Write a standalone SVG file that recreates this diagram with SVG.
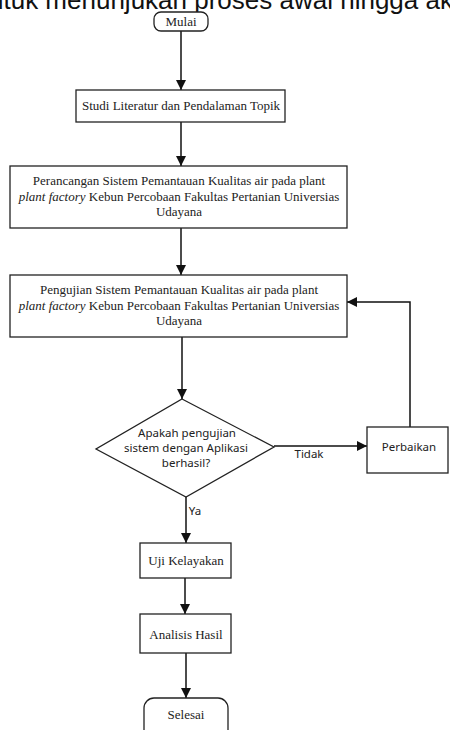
<svg xmlns="http://www.w3.org/2000/svg" width="450" height="730" viewBox="0 0 450 730">
<style>
.bx{fill:#fff;stroke:#222;stroke-width:1.3}
.t{font-family:"Liberation Serif","Times New Roman",serif;font-size:13px;fill:#222;text-anchor:middle}
.s{font-family:"Noto Sans","Open Sans",sans-serif;font-size:11.5px;fill:#222;text-anchor:middle}
.c{fill:none;stroke:#111;stroke-width:1.5}
.hd{font-family:"Liberation Sans",Arial,sans-serif;font-size:26px;fill:#111}
</style>
<defs>
<marker id="ah" markerUnits="userSpaceOnUse" markerWidth="10" markerHeight="10" refX="10" refY="5" orient="auto">
<path d="M0,0 L10,5 L0,10 z" fill="#111"/>
</marker>
</defs>
<rect width="450" height="730" fill="#fff"/>
<text class="hd" x="-11" y="9">ntuk menunjukan proses awal hingga ak</text>
<g id="connectors">
<path class="c" d="M181,31 V90" marker-end="url(#ah)"/>
<path class="c" d="M181,122 V166" marker-end="url(#ah)"/>
<path class="c" d="M181,228 V275" marker-end="url(#ah)"/>
<path class="c" d="M182,337 V399" marker-end="url(#ah)"/>
<path class="c" d="M186,497 V543" marker-end="url(#ah)"/>
<path class="c" d="M185,578 V614" marker-end="url(#ah)"/>
<path class="c" d="M186,653 V698" marker-end="url(#ah)"/>
<path class="c" d="M274,446 H367" marker-end="url(#ah)"/>
<path class="c" d="M410,427 V302 H347" marker-end="url(#ah)"/>
<text class="s" x="309" y="458">Tidak</text>
<text class="s" x="195" y="515">Ya</text>
</g>
<g id="mulai">
<rect class="bx" x="154" y="12" width="54" height="19" rx="7"/>
<text class="t" x="181" y="26">Mulai</text>
</g>
<g id="studi">
<rect class="bx" x="76" y="90" width="209" height="32"/>
<text class="t" x="181" y="110">Studi Literatur dan Pendalaman Topik</text>
</g>
<g id="perancangan">
<rect class="bx" x="10" y="166" width="337" height="62"/>
<text class="t" x="179" y="185">Perancangan Sistem Pemantauan Kualitas air pada plant</text>
<text class="t" x="179" y="200.5"><tspan font-style="italic">plant factory</tspan> Kebun Percobaan Fakultas Pertanian Universias</text>
<text class="t" x="179" y="216">Udayana</text>
</g>
<g id="pengujian">
<rect class="bx" x="10" y="275" width="337" height="62"/>
<text class="t" x="179" y="294">Pengujian Sistem Pemantauan Kualitas air pada plant</text>
<text class="t" x="179" y="309.5"><tspan font-style="italic">plant factory</tspan> Kebun Percobaan Fakultas Pertanian Universias</text>
<text class="t" x="179" y="325">Udayana</text>
</g>
<g id="keputusan">
<polygon class="bx" points="182,399 274,447 186,497 96,449"/>
<text class="s" x="187" y="437">Apakah pengujian</text>
<text class="s" x="186" y="452">sistem dengan Aplikasi</text>
<text class="s" x="186" y="467">berhasil?</text>
</g>
<g id="perbaikan">
<rect class="bx" x="367" y="427" width="81" height="46"/>
<text class="s" x="409" y="451">Perbaikan</text>
</g>
<g id="uji">
<rect class="bx" x="140" y="543" width="91" height="35"/>
<text class="t" x="186" y="565">Uji Kelayakan</text>
</g>
<g id="analisis">
<rect class="bx" x="140" y="614" width="91" height="39"/>
<text class="t" x="186" y="639">Analisis Hasil</text>
</g>
<g id="selesai">
<rect class="bx" x="144" y="698" width="84" height="44" rx="10"/>
<text class="t" x="186" y="719">Selesai</text>
</g>
</svg>
